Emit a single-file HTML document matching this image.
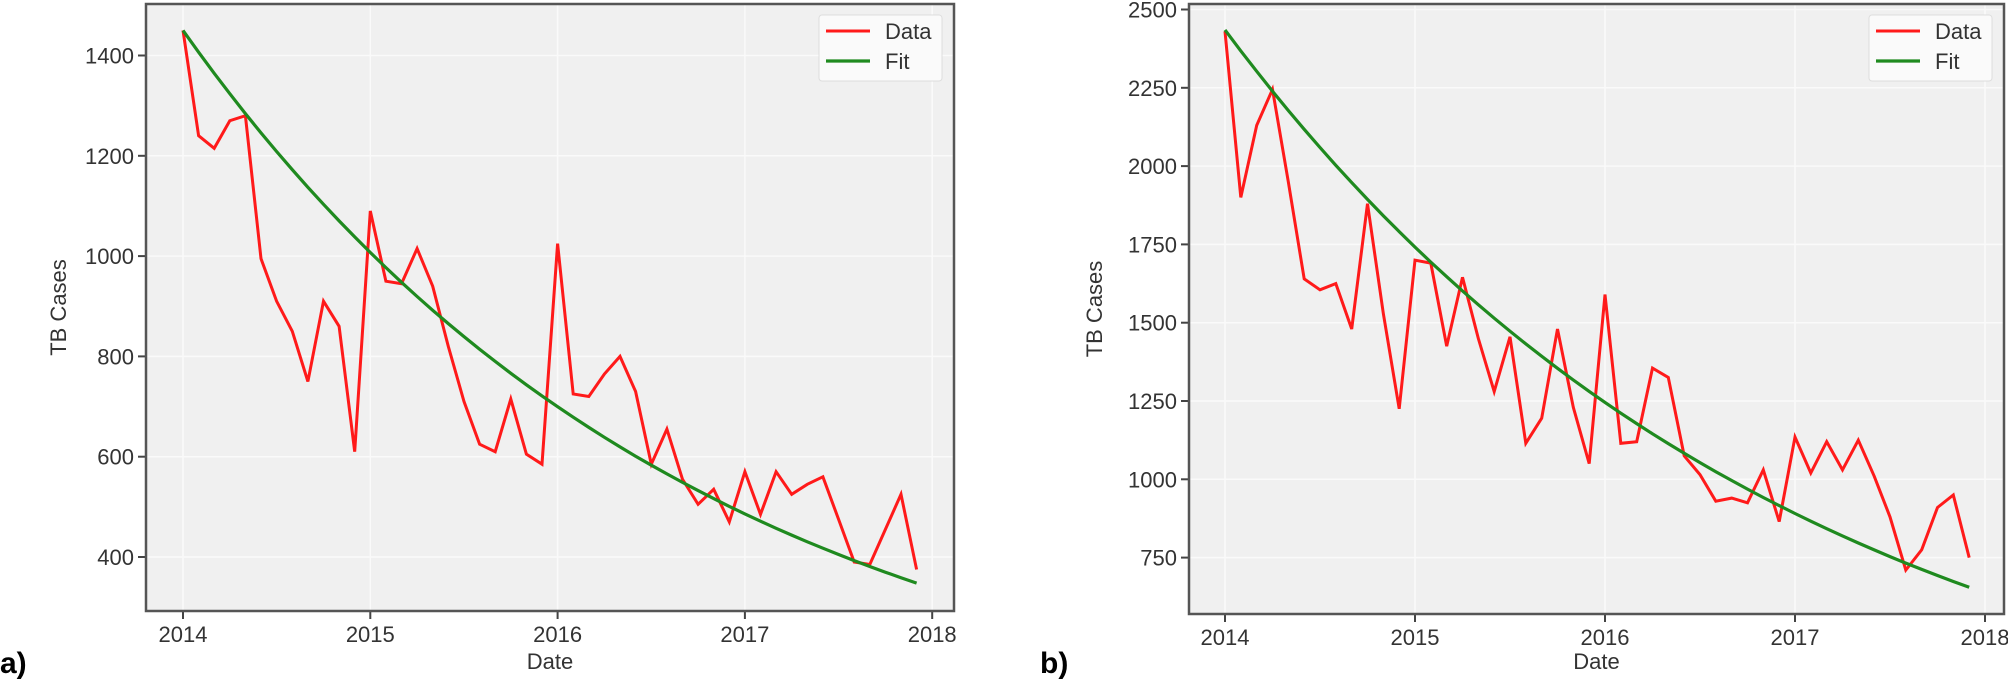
<!DOCTYPE html>
<html><head><meta charset="utf-8"><style>
html,body{margin:0;padding:0;background:#fff;}
svg{display:block;font-family:"Liberation Sans",sans-serif;}
</style></head><body>
<svg id="s" width="2008" height="679" xmlns="http://www.w3.org/2000/svg"></svg>
<script>
const s=document.getElementById('s');let h='';
function chart(o){
 const X=t=>o.x0+(t-2014)*o.xs, Y=v=>o.yb-(v-o.yv)*o.ys;
 h+=`<rect x="${o.L}" y="${o.T}" width="${o.R-o.L}" height="${o.B-o.T}" fill="#f0f0f0"/>`;
 for(const t of [2014,2015,2016,2017,2018]){h+=`<line x1="${X(t)}" x2="${X(t)}" y1="${o.T}" y2="${o.B}" stroke="#fafafa" stroke-width="1.5"/>`;
  h+=`<line x1="${X(t)}" x2="${X(t)}" y1="${o.B}" y2="${o.B+8}" stroke="#444" stroke-width="2"/>`;
  h+=`<text x="${X(t)}" y="${o.B+31}" font-size="22" fill="#333" text-anchor="middle">${t}</text>`;}
 for(const v of o.yt){h+=`<line x1="${o.L}" x2="${o.R}" y1="${Y(v)}" y2="${Y(v)}" stroke="#fafafa" stroke-width="1.5"/>`;
  h+=`<line x1="${o.L-8}" x2="${o.L}" y1="${Y(v)}" y2="${Y(v)}" stroke="#444" stroke-width="2"/>`;
  h+=`<text x="${o.L-12}" y="${Y(v)+8}" font-size="22" fill="#333" text-anchor="end">${v}</text>`;}
 let p=o.d.map((v,i)=>X(2014+i/12).toFixed(1)+','+Y(v).toFixed(1)).join(' ');
 let f=[];for(let i=0;i<48;i++)f.push(X(2014+i/12).toFixed(1)+','+Y(o.a*Math.exp(-o.k*i/12)).toFixed(1));
 h+=`<polyline points="${p}" fill="none" stroke="#ff1a1a" stroke-width="3"/>`;
 h+=`<polyline points="${f.join(' ')}" fill="none" stroke="#1f8a1f" stroke-width="3.2"/>`;
 h+=`<rect x="${o.L}" y="${o.T}" width="${o.R-o.L}" height="${o.B-o.T}" fill="none" stroke="#555" stroke-width="2.5"/>`;
 const lx=o.R-135;
 h+=`<rect x="${lx}" y="15" width="123" height="66" rx="3" fill="#fafafa" stroke="#ddd"/>`;
 h+=`<line x1="${lx+7}" x2="${lx+51}" y1="31" y2="31" stroke="#ff1a1a" stroke-width="3"/><text x="${lx+66}" y="39" font-size="22" fill="#333">Data</text>`;
 h+=`<line x1="${lx+7}" x2="${lx+51}" y1="61" y2="61" stroke="#1f8a1f" stroke-width="3.2"/><text x="${lx+66}" y="69" font-size="22" fill="#333">Fit</text>`;
 h+=`<text transform="translate(${o.yl},${(o.T+o.B)/2}) rotate(-90)" font-size="22" fill="#333" text-anchor="middle">TB Cases</text>`;
 h+=`<text x="${(o.L+o.R)/2}" y="669" font-size="22" fill="#333" text-anchor="middle">Date</text>`;
 h+=`<text x="${o.lab}" y="673" font-size="30" font-weight="bold" fill="#000">${o.name}</text>`;
}
chart({L:146,R:954,T:4,B:611,x0:183,xs:187.3,yb:557,yv:400,ys:0.5015,yt:[400,600,800,1000,1200,1400],yl:66,lab:0,name:'a)',
 a:1450,k:0.3644,d:[1450,1240,1215,1270,1280,995,910,850,750,910,860,610,1090,950,945,1015,940,820,710,625,610,715,605,585,1025,725,720,765,800,730,585,655,555,505,535,470,570,485,570,525,545,560,475,390,385,455,525,375]});
chart({L:1189,R:2004,T:4,B:614,x0:1225,xs:190,yb:557.6,yv:750,ys:0.3132,yt:[750,1000,1250,1500,1750,2000,2250,2500],yl:1102,lab:1040,name:'b)',
 a:2435,k:0.3352,d:[2430,1900,2130,2245,1950,1640,1605,1625,1480,1880,1530,1225,1700,1690,1425,1645,1450,1280,1455,1115,1195,1480,1230,1050,1590,1115,1120,1355,1325,1075,1015,930,940,925,1030,865,1135,1020,1120,1030,1125,1010,880,710,775,910,950,750]});
s.innerHTML=h;
</script>
</body></html>
